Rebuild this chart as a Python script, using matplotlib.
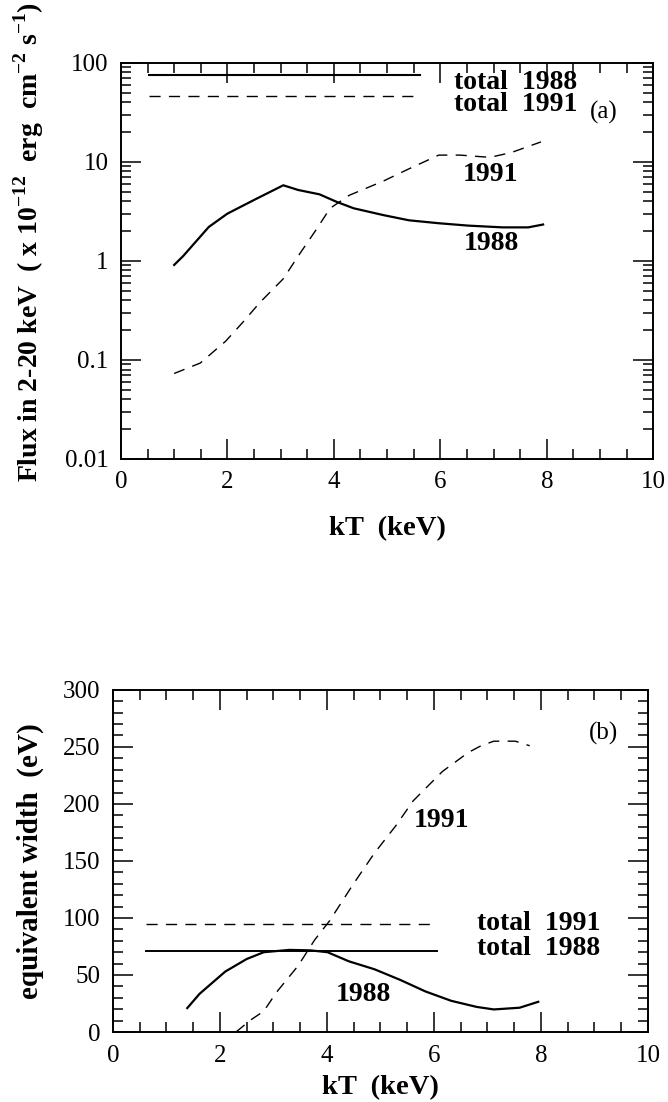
import numpy as np
import matplotlib
matplotlib.use('Agg')
import matplotlib.pyplot as plt
from matplotlib.ticker import MultipleLocator, LogLocator, NullFormatter, FixedFormatter, FixedLocator

plt.rcParams['font.family'] = ['Liberation Serif', 'DejaVu Serif']
plt.rcParams['mathtext.fontset'] = 'custom'
plt.rcParams['mathtext.rm'] = 'Liberation Serif'
plt.rcParams['mathtext.bf'] = 'Liberation Serif:bold'

# (a) flux in 2-20 keV vs kT
kt_flux_1988 = [1.0, 1.17, 1.65, 2.0, 2.53, 3.05, 3.33, 3.73, 4.05, 4.37, 4.93, 5.41, 5.97, 6.53, 7.17, 7.65, 7.93]
flux_1988 = [0.91, 1.12, 2.2, 3.0, 4.2, 5.8, 5.2, 4.7, 3.95, 3.4, 2.9, 2.57, 2.4, 2.27, 2.18, 2.18, 2.33]
kt_flux_1991 = [1.0, 1.49, 1.97, 2.29, 2.61, 3.05, 3.33, 3.65, 3.93, 4.29, 4.93, 5.41, 5.97, 6.37, 6.93, 7.33, 7.89]
flux_1991 = [0.073, 0.093, 0.155, 0.24, 0.38, 0.66, 1.12, 2.0, 3.4, 4.6, 6.4, 8.5, 11.7, 11.7, 11.1, 12.4, 15.9]
total_flux_1988 = 74.5
total_flux_1991 = 46.0
total_flux_span = [0.52, 5.62]

# (b) equivalent width vs kT
kt_ew_1988 = [1.39, 1.62, 2.1, 2.5, 2.82, 3.3, 3.69, 4.01, 4.41, 4.89, 5.37, 5.84, 6.32, 6.8, 7.12, 7.6, 7.95]
ew_1988 = [21, 33.5, 53, 64, 70, 72, 71.6, 70, 62, 55, 45.7, 35.6, 27.4, 22, 19.8, 21.3, 26.5]
kt_ew_1991 = [2.3, 2.58, 2.82, 3.06, 3.46, 3.77, 4.05, 4.49, 4.89, 5.29, 5.61, 6.16, 6.64, 6.88, 7.12, 7.52, 7.79]
ew_1991 = [0, 10.7, 18.3, 35, 58, 80.7, 97.5, 129.5, 157, 181, 202.6, 228.5, 245, 251, 255, 255, 251]
total_ew_1988 = 70.7
total_ew_1991 = 94.4
total_ew_span = [0.62, 6.06]

dash = (0, (8, 6))

fig = plt.figure(figsize=(6.68, 11.02), dpi=100)
ax1 = fig.add_axes([0.181, 0.5835, 0.797, 0.3595])
ax2 = fig.add_axes([0.169, 0.0635, 0.801, 0.3105])


def style_axes(ax):
    for s in ax.spines.values():
        s.set_linewidth(1.4)
    ax.tick_params(which='both', direction='in', top=True, right=True,
                   labelsize=18, width=1.1, pad=9)
    ax.tick_params(which='major', length=14.5)
    ax.tick_params(which='minor', length=7.5)
    ax.set_xlim(0, 10)
    ax.xaxis.set_major_locator(MultipleLocator(2))
    ax.xaxis.set_minor_locator(MultipleLocator(0.5))


# ---- panel (a)
ax1.set_yscale('log')
ax1.plot(total_flux_span, [total_flux_1988] * 2, color='black', lw=1.5)
ax1.plot(total_flux_span, [total_flux_1991] * 2, color='black', lw=1.0, ls=dash)
ax1.plot(kt_flux_1988, flux_1988, color='black', lw=1.6)
ax1.plot(kt_flux_1991, flux_1991, color='black', lw=1.0, ls=dash)
style_axes(ax1)
ax1.set_ylim(0.01, 100)
ax1.yaxis.set_minor_locator(LogLocator(base=10, subs=np.arange(2, 10), numticks=10))
ax1.yaxis.set_minor_formatter(NullFormatter())
ax1.yaxis.set_major_locator(FixedLocator([0.01, 0.1, 1, 10, 100]))
ax1.yaxis.set_major_formatter(FixedFormatter(['0.01', '0.1', '1', '10', '100']))

ax1.text(6.26, 64, 'total  1988', fontsize=20, fontweight='bold', va='center', ha='left')
ax1.text(6.26, 37.7, 'total  1991', fontsize=20, fontweight='bold', va='center', ha='left')
ax1.text(8.8, 31.6, '(a)', fontsize=18, va='center', ha='left')
ax1.text(6.95, 7.4, '1991', fontsize=20, fontweight='bold', va='center', ha='center')
ax1.text(6.95, 1.5, '1988', fontsize=20, fontweight='bold', va='center', ha='center')

ax1.set_xlabel('kT  (keV)', fontsize=20.5, fontweight='bold')
ax1.xaxis.set_label_coords(0.5, -0.145)
ax1.set_ylabel(r'Flux in 2-20 keV  ( x 10$^{\mathbf{-12}}$  erg  cm$^{\mathbf{-2}}$ s$^{\mathbf{-1}}$)',
               fontsize=20, fontweight='bold')
ax1.yaxis.set_label_coords(-0.141, 0.548)

# ---- panel (b)
ax2.plot(total_ew_span, [total_ew_1991] * 2, color='black', lw=1.0, ls=dash)
ax2.plot(total_ew_span, [total_ew_1988] * 2, color='black', lw=1.4)
ax2.plot(kt_ew_1988, ew_1988, color='black', lw=1.6)
ax2.plot(kt_ew_1991, ew_1991, color='black', lw=1.0, ls=dash)
style_axes(ax2)
ax2.set_ylim(0, 300)
ax2.yaxis.set_major_locator(MultipleLocator(50))
ax2.yaxis.set_minor_locator(MultipleLocator(10))

ax2.text(6.8, 95.3, 'total  1991', fontsize=20, fontweight='bold', va='center', ha='left')
ax2.text(6.8, 73, 'total  1988', fontsize=20, fontweight='bold', va='center', ha='left')
ax2.text(9.16, 262, '(b)', fontsize=18, va='center', ha='center')
ax2.text(6.14, 185.8, '1991', fontsize=20, fontweight='bold', va='center', ha='center')
ax2.text(4.69, 32.6, '1988', fontsize=20, fontweight='bold', va='center', ha='center')

ax2.set_xlabel('kT  (keV)', fontsize=20.5, fontweight='bold')
ax2.xaxis.set_label_coords(0.5, -0.126)
ax2.set_ylabel('equivalent width  (eV)', fontsize=21, fontweight='bold')
ax2.yaxis.set_label_coords(-0.128, 0.5)

fig.savefig('out.png', dpi=100)
